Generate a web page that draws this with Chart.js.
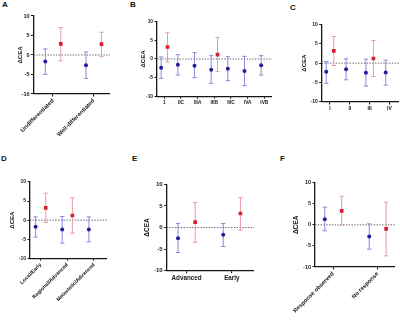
<!DOCTYPE html>
<html>
<head>
<meta charset="utf-8">
<script src="https://cdn.jsdelivr.net/npm/chart.js@4.4.1/dist/chart.umd.min.js"></script>
<style>
html, body { margin: 0; padding: 0; background: #fff; }
#fig { position: relative; width: 400px; height: 321px; overflow: hidden; }
#fig canvas { position: absolute; }
.tag { position: absolute; font: bold 8px 'Liberation Sans', Arial, sans-serif; line-height: 8px; color: #111; }
</style>
</head>
<body>
<div id="fig">
  <div class="tag" style="left:2px;top:1px">A</div>
  <div class="tag" style="left:130px;top:1px">B</div>
  <div class="tag" style="left:290px;top:4px">C</div>
  <div class="tag" style="left:1px;top:155px">D</div>
  <div class="tag" style="left:132px;top:155px">E</div>
  <div class="tag" style="left:280px;top:155px">F</div>
</div>
<script>
// y axis (same on every panel)
const yTicks = [-10, -5, 0, 5, 10];

// A - differentiation
const catsA = ['Undifferentiated', 'Well-differentiated'];
const blueA = [-1.65, -2.6];
const blueLoA = [-4.96, -6.0];
const blueHiA = [1.57, 0.78];
const redA = [2.87, 2.78];
const redLoA = [-1.48, -0.43];
const redHiA = [7.04, 5.83];

// B - stage (detailed)
const catsB = ['1', 'IIC', 'IIIA', 'IIIB', 'IIIC', 'IVA', 'IVB'];
const blueB = [-2.32, -1.52, -1.79, -2.86, -2.59, -3.2, -1.7];
const blueLoB = [-5.18, -4.29, -5.0, -6.52, -5.8, -7.14, -4.29];
const blueHiB = [0.54, 1.16, 1.7, 0.89, 0.63, 0.71, 0.9];
const redB = [3.21, null, null, 1.16, null, null, null];
const redLoB = [-0.8, null, null, -3.39, null, null, null];
const redHiB = [7.05, null, null, 5.8, null, null, null];

// C - stage
const catsC = ['I', 'II', 'III', 'IV'];
const blueC = [-2.23, -1.55, -2.49, -2.4];
const blueLoC = [-5.15, -4.29, -5.92, -5.67];
const blueHiC = [0.43, 1.12, 1.03, 0.77];
const redC = [3.17, null, 1.2, null];
const redLoC = [-0.6, null, -3.43, null];
const redHiC = [6.87, null, 5.84, null];

// D - extent
const catsD = ['Local/Early', 'Regional/Advanced', 'Metastatic/Advanced'];
const blueD = [-1.75, -2.45, -2.45];
const blueLoD = [-4.45, -6.03, -5.68];
const blueHiD = [0.87, 0.96, 0.87];
const redD = [3.23, 1.22, null];
const redLoD = [-0.61, -3.41, null];
const redHiD = [7.07, 5.85, null];

// E - advanced vs early
const catsE = ['Advanced', 'Early'];
const blueE = [-2.47, -1.7];
const blueLoE = [-5.79, -4.4];
const blueHiE = [0.93, 0.93];
const redE = [1.24, 3.24];
const redLoE = [-3.4, -0.62];
const redHiE = [5.79, 6.95];

// F - response
const catsF = ['Response observed', 'No response'];
const blueF = [1.34, -2.77];
const blueLoF = [-1.42, -5.77];
const blueHiF = [4.19, 0.24];
const redF = [3.32, -0.95];
const redLoF = [-0.08, -7.35];
const redHiF = [6.8, 5.38];

const FONT = "'Liberation Sans', Arial, sans-serif";
const INK = '#161616';
const BLUE = '#1f1f9c', BLUE_BAR = '#8a8ade';
const RED = '#d81f31', RED_BAR = '#e99ca6';
const GROUP_OFF = 0.19;

// placement of each panel in the 400x321 figure
const panels = [
  { cats: catsA, blue: [blueA, blueLoA, blueHiA], red: [redA, redLoA, redHiA],
    ax: 33.5, top: 16, bot: 94, xEnd: 110, min: -0.48, max: 1.40, titleX: 20, titleSize: 6, tick: 5.5, cat: 5.8, rot: 45, xH: 55 },
  { cats: catsB, blue: [blueB, blueLoB, blueHiB], red: [redB, redLoB, redHiB],
    ax: 157, top: 21.7, bot: 96.3, xEnd: 272, min: -0.44, max: 6.46, titleX: 143.3, titleSize: 6, tick: 4.8, cat: 4.8, rot: 0, xH: 14 },
  { cats: catsC, blue: [blueC, blueLoC, blueHiC], red: [redC, redLoC, redHiC],
    ax: 321.7, top: 24.3, bot: 102, xEnd: 399, min: -0.42, max: 3.48, titleX: 304, titleSize: 6, tick: 5, cat: 5, rot: 0, xH: 14 },
  { cats: catsD, blue: [blueD, blueLoD, blueHiD], red: [redD, redLoD, redHiD],
    ax: 30, top: 182, bot: 258.3, xEnd: 107, min: -0.4, max: 2.49, titleX: 12.7, titleSize: 6, tick: 5, cat: 5.2, rot: 45, xH: 60 },
  { cats: catsE, blue: [blueE, blueLoE, blueHiE], red: [redE, redLoE, redHiE],
    ax: 166.7, top: 184.3, bot: 270.7, xEnd: 254, min: -0.44, max: 1.49, titleX: 147.3, titleSize: 6.5, tick: 6, cat: 6.3, rot: 0, xH: 16 },
  { cats: catsF, blue: [blueF, blueLoF, blueHiF], red: [redF, redLoF, redHiF],
    ax: 315, top: 182.7, bot: 267, xEnd: 395, min: -0.41, max: 1.39, titleX: 296.7, titleSize: 6.5, tick: 5.5, cat: 5.8, rot: 45, xH: 54 }
];

// error bars drawn right after the dotted zero line, before the markers
const errorBars = {
  id: 'errorBars',
  afterDatasetDraw(chart, args) {
    if (!chart.data.datasets[args.index].isZero) return;
    const ctx = chart.ctx;
    const ys = chart.scales.y;
    chart.data.datasets.forEach((ds, di) => {
      if (!ds.errColor) return;
      const meta = chart.getDatasetMeta(di);
      ctx.save();
      ctx.strokeStyle = ds.errColor;
      ctx.lineWidth = 1;
      meta.data.forEach((pt, k) => {
        const d = ds.data[k];
        const x = pt.x, y1 = ys.getPixelForValue(d.lo), y2 = ys.getPixelForValue(d.hi);
        const cap = 2.2;
        ctx.beginPath();
        ctx.moveTo(x, y1); ctx.lineTo(x, y2);
        ctx.moveTo(x - cap, y1); ctx.lineTo(x + cap, y1);
        ctx.moveTo(x - cap, y2); ctx.lineTo(x + cap, y2);
        ctx.stroke();
      });
      ctx.restore();
    });
  }
};

function points(series, off) {
  const [mean, lo, hi] = series;
  const out = [];
  mean.forEach((y, i) => {
    if (y === null) return;
    out.push({ x: i + off, y: y, lo: lo[i], hi: hi[i] });
  });
  return out;
}

function makePanel(p) {
  const fig = document.getElementById('fig');
  const canvas = document.createElement('canvas');
  const left = Math.floor(p.titleX - p.titleSize / 2);
  const top = Math.floor(p.top - 5);
  const w = Math.round(p.xEnd - left);
  const h = Math.round(p.bot - top + p.xH);
  canvas.width = w; canvas.height = h;
  canvas.style.left = left + 'px'; canvas.style.top = top + 'px';
  canvas.style.width = w + 'px'; canvas.style.height = h + 'px';
  fig.appendChild(canvas);

  const yW = p.ax - left;
  const xH = h - (p.bot - top);
  const axisGrid = { drawOnChartArea: false, drawTicks: true, tickLength: 2.5, color: INK, lineWidth: 1.1 };
  const axisBorder = { color: INK, width: 1.3 };

  new Chart(canvas, {
    type: 'scatter',
    data: {
      datasets: [
        { data: points(p.blue, -GROUP_OFF), errColor: BLUE_BAR, pointStyle: 'circle', pointRadius: 2,
          backgroundColor: BLUE, borderWidth: 0 },
        { data: points(p.red, GROUP_OFF), errColor: RED_BAR, pointStyle: 'rect', pointRadius: 2.6,
          backgroundColor: RED, borderWidth: 0 },
        { type: 'line', isZero: true, data: [{ x: p.min, y: 0 }, { x: p.max, y: 0 }],
          borderColor: '#555', borderWidth: 0.9, borderDash: [1.4, 1.4], pointRadius: 0 }
      ]
    },
    options: {
      responsive: false,
      animation: false,
      layout: { autoPadding: false, padding: { top: p.top - top, left: 0, right: 0, bottom: 0 } },
      plugins: { legend: { display: false }, tooltip: { enabled: false } },
      scales: {
        x: {
          type: 'linear', min: p.min, max: p.max,
          afterBuildTicks: s => { s.ticks = p.cats.map((c, i) => ({ value: i })); },
          afterFit: s => { s.height = xH; s.paddingLeft = 0; s.paddingRight = 0; },
          ticks: {
            autoSkip: false, maxRotation: p.rot, minRotation: p.rot, padding: 1, color: INK,
            font: { family: FONT, weight: 'bold', size: p.cat },
            callback: v => p.cats[v]
          },
          grid: axisGrid,
          border: axisBorder
        },
        y: {
          min: -10, max: 10,
          afterBuildTicks: s => { s.ticks = yTicks.map(v => ({ value: v })); },
          afterFit: s => { s.width = yW; s.paddingTop = 0; s.paddingBottom = 0; },
          title: {
            display: true, text: 'ΔCEA', color: INK,
            font: { family: FONT, weight: 'bold', size: p.titleSize, lineHeight: 1 },
            padding: { top: p.titleX - p.titleSize / 2 - left, bottom: 0 }
          },
          ticks: { padding: 1.5, color: INK, font: { family: FONT, weight: 'bold', size: p.tick } },
          grid: axisGrid,
          border: axisBorder
        }
      }
    },
    plugins: [errorBars]
  });
}

panels.forEach(makePanel);
</script>
</body>
</html>
